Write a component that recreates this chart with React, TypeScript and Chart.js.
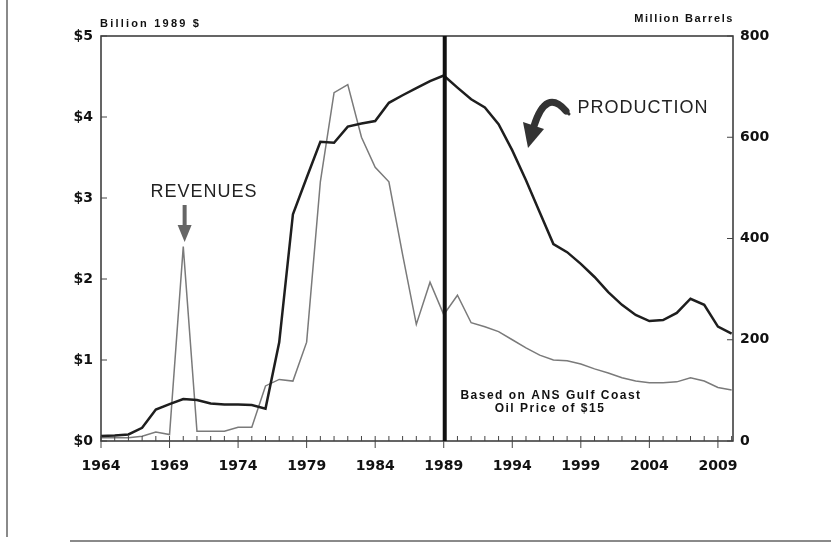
import React, { useEffect, useRef } from "react";
import { Chart, registerables } from "chart.js";

Chart.register(...registerables);

// ---- data ----
const years = [
  1964, 1965, 1966, 1967, 1968, 1969, 1970, 1971, 1972, 1973, 1974, 1975,
  1976, 1977, 1978, 1979, 1980, 1981, 1982, 1983, 1984, 1985, 1986, 1987,
  1988, 1989, 1990, 1991, 1992, 1993, 1994, 1995, 1996, 1997, 1998, 1999,
  2000, 2001, 2002, 2003, 2004, 2005, 2006, 2007, 2008, 2009, 2010,
];

// Million barrels (right axis)
const production = [
  10, 11, 13, 26, 62, 73, 83, 81, 74, 72, 72, 71,
  64, 195, 448, 520, 591, 589, 621, 627, 632, 668, 683, 697,
  711, 722, 698, 675, 659, 626, 574, 515, 452, 389, 373, 350,
  324, 294, 269, 249, 237, 239, 253, 281, 269, 226, 212,
];

// Billion 1989 $ (left axis)
const revenues = [
  0.04, 0.04, 0.04, 0.06, 0.11, 0.08, 2.4, 0.12, 0.12, 0.12, 0.17, 0.17,
  0.68, 0.76, 0.74, 1.22, 3.2, 4.3, 4.4, 3.75, 3.38, 3.2, 2.3, 1.44,
  1.96, 1.56, 1.8, 1.46, 1.41, 1.35, 1.25, 1.15, 1.06, 1.0, 0.99, 0.95,
  0.89, 0.84, 0.78, 0.74, 0.72, 0.72, 0.73, 0.78, 0.74, 0.66, 0.63,
];

const xTickYears = [1964, 1969, 1974, 1979, 1984, 1989, 1994, 1999, 2004, 2009];
const leftTickValues = [0, 1, 2, 3, 4, 5];
const rightTickValues = [0, 200, 400, 600, 800];
const markerYear = 1989;

const leftTitle = "Billion 1989 $";
const rightTitle = "Million Barrels";
const revenueLabel = "REVENUES";
const productionLabel = "PRODUCTION";
const noteLines = ["Based on ANS Gulf Coast", "Oil Price of $15"];

const TICK_FONT = { family: "'DejaVu Sans', sans-serif", size: 14, weight: "bold" as const };

const decorPlugin = {
  id: "decor",
  afterDraw(chart: any) {
    const { ctx, chartArea: a, scales } = chart;
    const xs = scales.x;
    const yl = scales.y;
    const yr = scales.y1;
    ctx.save();

    // plot frame
    ctx.strokeStyle = "#333";
    ctx.lineWidth = 1.5;
    ctx.strokeRect(a.left, a.top, a.right - a.left, a.bottom - a.top);

    // x ticks: minor (inside, every year) and major (outside)
    ctx.lineWidth = 1;
    ctx.strokeStyle = "#444";
    years.forEach((yv) => {
      const px = xs.getPixelForValue(yv);
      ctx.beginPath();
      ctx.moveTo(px, a.bottom);
      ctx.lineTo(px, a.bottom - 5);
      ctx.stroke();
    });
    xTickYears.forEach((yv) => {
      const px = xs.getPixelForValue(yv);
      ctx.beginPath();
      ctx.moveTo(px, a.bottom);
      ctx.lineTo(px, a.bottom + 7);
      ctx.stroke();
    });
    // y ticks inside
    leftTickValues.forEach((v) => {
      const py = yl.getPixelForValue(v);
      ctx.beginPath();
      ctx.moveTo(a.left, py);
      ctx.lineTo(a.left + 6, py);
      ctx.stroke();
    });
    rightTickValues.forEach((v) => {
      const py = yr.getPixelForValue(v);
      ctx.beginPath();
      ctx.moveTo(a.right, py);
      ctx.lineTo(a.right - 6, py);
      ctx.stroke();
    });

    // vertical 1989 marker
    const mx = xs.getPixelForValue(markerYear) + 1;
    ctx.fillStyle = "#111";
    ctx.fillRect(mx - 2, a.top, 4, a.bottom - a.top);

    // axis titles
    ctx.fillStyle = "#111";
    ctx.font = "bold 11px 'Liberation Sans', Arial, sans-serif";
    (ctx as any).letterSpacing = "2.2px";
    ctx.textAlign = "left";
    ctx.textBaseline = "alphabetic";
    ctx.fillText(leftTitle, a.left - 1, a.top - 9);
    (ctx as any).letterSpacing = "1.6px";
    ctx.textAlign = "right";
    ctx.fillText(rightTitle, a.right + 1, a.top - 14);

    // REVENUES label + arrow
    ctx.font = "18px 'Liberation Sans', Arial, sans-serif";
    (ctx as any).letterSpacing = "1px";
    ctx.textAlign = "center";
    ctx.fillStyle = "#222";
    ctx.fillText(revenueLabel, 204, 197);
    const rx = xs.getPixelForValue(1970.1);
    ctx.fillStyle = "#666";
    ctx.fillRect(rx - 2, 205, 4, 22);
    ctx.beginPath();
    ctx.moveTo(rx - 7, 225);
    ctx.lineTo(rx + 7, 225);
    ctx.lineTo(rx, 242);
    ctx.closePath();
    ctx.fill();

    // PRODUCTION label + curved arrow
    ctx.fillStyle = "#222";
    ctx.fillText(productionLabel, 643, 113);
    ctx.strokeStyle = "#333";
    ctx.lineCap = "round";
    ctx.lineWidth = 7;
    ctx.beginPath();
    ctx.moveTo(566, 111);
    ctx.quadraticCurveTo(546, 88, 534, 126);
    ctx.stroke();
    ctx.lineWidth = 3;
    ctx.beginPath();
    ctx.moveTo(566, 111);
    ctx.lineTo(569, 114);
    ctx.stroke();
    ctx.fillStyle = "#333";
    ctx.beginPath();
    ctx.moveTo(544, 129);
    ctx.lineTo(523, 122);
    ctx.lineTo(528, 148);
    ctx.closePath();
    ctx.fill();

    // note
    ctx.fillStyle = "#111";
    ctx.font = "bold 12px 'Liberation Sans', Arial, sans-serif";
    (ctx as any).letterSpacing = "1.5px";
    ctx.textAlign = "center";
    ctx.fillText(noteLines[0], 551, 399);
    ctx.fillText(noteLines[1], 550, 412);

    ctx.restore();
  },
};

export default function App() {
  const canvasRef = useRef<HTMLCanvasElement | null>(null);

  useEffect(() => {
    const canvas = canvasRef.current;
    if (!canvas) return;
    const chart = new Chart(canvas, {
      type: "line",
      data: {
        datasets: [
          {
            label: "Production",
            data: years.map((yv, i) => ({ x: yv, y: production[i] })),
            yAxisID: "y1",
            borderColor: "#1e1e1e",
            borderWidth: 2.5,
            pointRadius: 0,
            tension: 0,
          },
          {
            label: "Revenues",
            data: years.map((yv, i) => ({ x: yv, y: revenues[i] })),
            yAxisID: "y",
            borderColor: "#7a7a7a",
            borderWidth: 1.5,
            pointRadius: 0,
            tension: 0,
          },
        ],
      },
      options: {
        responsive: false,
        animation: false,
        devicePixelRatio: 1,
        layout: { padding: { left: 0, right: 0, top: 36, bottom: 0 } },
        plugins: {
          legend: { display: false },
          tooltip: { enabled: false },
        },
        scales: {
          x: {
            type: "linear",
            min: 1964,
            max: 2010.1,
            grid: { display: false, drawTicks: false },
            border: { display: false },
            ticks: {
              font: TICK_FONT,
              color: "#111",
              padding: 17,
              maxRotation: 0,
              callback: (v: any) => String(v),
            },
            afterBuildTicks: (s: any) => {
              s.ticks = xTickYears.map((v) => ({ value: v }));
            },
            afterFit: (s: any) => {
              s.height = 102;
            },
          },
          y: {
            type: "linear",
            position: "left",
            min: 0,
            max: 5,
            grid: { display: false, drawTicks: false },
            border: { display: false },
            ticks: {
              font: TICK_FONT,
              color: "#111",
              padding: 8,
              callback: (v: any) => "$" + v,
            },
            afterBuildTicks: (s: any) => {
              s.ticks = leftTickValues.map((v) => ({ value: v }));
            },
            afterFit: (s: any) => {
              s.width = 101;
            },
          },
          y1: {
            type: "linear",
            position: "right",
            min: 0,
            max: 800,
            grid: { display: false, drawTicks: false },
            border: { display: false },
            ticks: {
              font: TICK_FONT,
              color: "#111",
              padding: 7,
              callback: (v: any) => String(v),
            },
            afterBuildTicks: (s: any) => {
              s.ticks = rightTickValues.map((v) => ({ value: v }));
            },
            afterFit: (s: any) => {
              s.width = 98;
            },
          },
        },
      },
      plugins: [decorPlugin],
    });
    return () => chart.destroy();
  }, []);

  return (
    <div
      style={{
        position: "fixed",
        left: 0,
        top: 0,
        width: 831,
        height: 543,
        background: "#fff",
        overflow: "hidden",
      }}
    >
      <canvas ref={canvasRef} width={831} height={543} style={{ display: "block" }} />
      <div style={{ position: "absolute", left: 6, top: 0, width: 2, height: 537, background: "#8a8a8a" }} />
      <div style={{ position: "absolute", left: 70, top: 540, width: 761, height: 2, background: "#8a8a8a" }} />
    </div>
  );
}
